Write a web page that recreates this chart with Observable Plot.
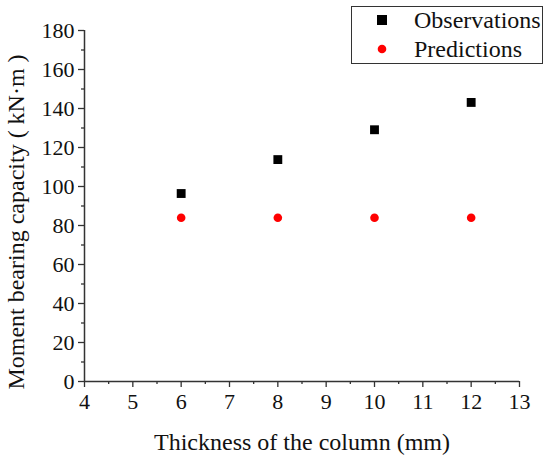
<!DOCTYPE html>
<html>
<head>
<meta charset="utf-8">
<script src="https://cdn.jsdelivr.net/npm/d3@7"></script>
<script src="https://cdn.jsdelivr.net/npm/@observablehq/plot@0.6"></script>
<style>
  body { margin: 0; background: #fff; }
  #wrap { position: relative; width: 550px; height: 457px; font-family: "Liberation Serif", "DejaVu Serif", serif; }
  #wrap svg text { font-family: "Liberation Serif", serif !important; fill: #111; font-variant: normal !important; }
  #wrap svg [aria-label="y-axis label"] text { font-size: 24px !important; }
  #legend { position: absolute; left: 351px; top: 6px; width: 192px; height: 58px; border: 1.3px solid #333; box-sizing: border-box; background: #fff; font-size: 24px; color: #111; }
  .sym { position: absolute; line-height: 0; }
  .lab { position: absolute; left: 62px; height: 29px; line-height: 29px; white-space: nowrap; }
</style>
</head>
<body>
<div id="wrap"></div>
<script>
const thickness = [6, 8, 10, 12];
const observations = [96.4, 113.8, 129.1, 143.1];
const predictions = [84, 84, 84, 84];
const xTicks = [4, 5, 6, 7, 8, 9, 10, 11, 12, 13];
const yTicks = [0, 20, 40, 60, 80, 100, 120, 140, 160, 180];
const seriesNames = ["Observations", "Predictions"];
const xLabel = "Thickness of the column (mm)";
const yLabel = "Moment bearing capacity ( kN·m )";

const obsData = thickness.map((t, i) => ({t, v: observations[i]}));
const predData = thickness.map((t, i) => ({t, v: predictions[i]}));
const xMinor = xTicks.slice(0, -1).map(d => d + 0.5);
const yMinor = yTicks.slice(0, -1).map(d => d + 10);

const chart = Plot.plot({
  width: 550,
  height: 457,
  marginLeft: 84,
  marginRight: 31,
  marginTop: 30,
  marginBottom: 76,
  style: {fontFamily: "Liberation Serif, serif", fontSize: "22px", color: "#111", background: "#fff"},
  x: {domain: [4, 13]},
  y: {domain: [0, 180]},
  marks: [
    Plot.axisX({ticks: xMinor, tickSize: 3, text: null, stroke: "#333", strokeWidth: 1.3, label: null}),
    Plot.axisY({ticks: yMinor, tickSize: 3, text: null, stroke: "#333", strokeWidth: 1.3, label: null}),
    Plot.axisX({ticks: xTicks, tickSize: 6, tickPadding: 6, stroke: "#333", strokeWidth: 1.3,
      fontSize: 22, fontFamily: "Liberation Serif", label: null}),
    Plot.axisY({ticks: yTicks, tickSize: 6, tickPadding: 4, stroke: "#333", strokeWidth: 1.3,
      fontSize: 22, fontFamily: "Liberation Serif",
      label: yLabel, labelAnchor: "center", labelArrow: "none", labelOffset: 78}),
    Plot.text([xLabel], {text: d => d, frameAnchor: "bottom", dy: 68, lineAnchor: "bottom", fontSize: 24, fontFamily: "Liberation Serif", fill: "#111"}),
    Plot.ruleY([0], {stroke: "#333", strokeWidth: 1.5}),
    Plot.ruleX([4], {stroke: "#333", strokeWidth: 1.5}),
    Plot.dot(obsData, {x: "t", y: "v", symbol: "square", r: 5, fill: "#000", stroke: "none"}),
    Plot.dot(predData, {x: "t", y: "v", symbol: "circle", r: 4.3, fill: "#ff0000", stroke: "none"})
  ]
});

// shift the y-axis title down slightly, as in the reference
const yl = d3.select(chart).select('[aria-label="y-axis label"]');
yl.attr("transform", (yl.attr("transform") || "") + " translate(0,16)");

const wrap = document.getElementById("wrap");
wrap.appendChild(chart);

const legend = document.createElement("div");
legend.id = "legend";
const symbols = [
  `<svg width="10" height="10"><rect width="10" height="10" fill="#000"/></svg>`,
  `<svg width="10" height="10"><circle cx="5" cy="5" r="4.3" fill="#ff0000"/></svg>`
];
seriesNames.forEach((name, i) => {
  const sym = document.createElement("span");
  sym.className = "sym";
  sym.style.left = "25px";
  sym.style.top = (8 + i * 29) + "px";
  sym.innerHTML = symbols[i];
  legend.appendChild(sym);
  const lab = document.createElement("span");
  lab.className = "lab";
  lab.style.top = (-1 + i * 29) + "px";
  lab.textContent = name;
  legend.appendChild(lab);
});
wrap.appendChild(legend);
</script>
</body>
</html>
